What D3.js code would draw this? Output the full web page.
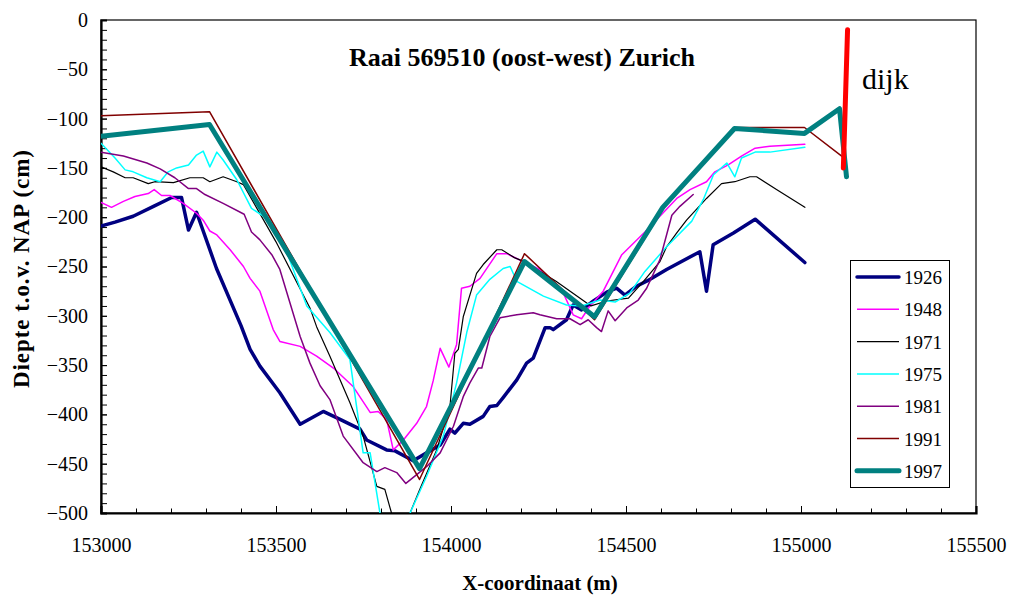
<!DOCTYPE html>
<html>
<head>
<meta charset="utf-8">
<script src="https://cdn.jsdelivr.net/npm/d3@7"></script>
<style>
  html, body { margin: 0; padding: 0; background: #fff; }
  svg { display: block; font-family: "Liberation Serif", "Times New Roman", serif; }
</style>
</head>
<body>
<svg id="chart" width="1012" height="595"></svg>
<script>
// Raai 569510 cross-section profiles: [x-coordinaat (m), diepte (cm)]
const years = ["1926", "1948", "1971", "1975", "1981", "1991", "1997"];

const s1926 = [[153000,-209],[153040,-205],[153092,-199],[153150,-189],[153202,-180],[153230,-180],[153250,-213],
  [153273,-195],[153330,-252],[153400,-310],[153426,-334],[153454,-351],[153511,-378],[153569,-410],[153635,-397],
  [153683,-405],[153740,-415],[153759,-426],[153816,-436],[153840,-437],[153892,-447],[153940,-437],[153969,-431],
  [153997,-415],[154011,-419],[154035,-409],[154054,-410],[154092,-402],[154111,-392],[154131,-391],[154149,-383],
  [154188,-365],[154216,-348],[154235,-343],[154269,-312],[154283,-312],[154292,-314],[154330,-304],[154349,-289],
  [154373,-294],[154407,-285],[154445,-276],[154473,-272],[154497,-279],[154530,-270],[154569,-263],[154616,-253],
  [154711,-235],[154730,-275],[154749,-228],[154807,-216],[154869,-202],[155011,-246]];

const s1948 = [[153000,-185],[153030,-190],[153064,-184],[153097,-179],[153135,-176],[153152,-172],[153173,-178],
  [153197,-178],[153235,-186],[153273,-196],[153292,-203],[153311,-214],[153331,-218],[153369,-233],[153407,-250],
  [153426,-262],[153454,-275],[153492,-314],[153511,-326],[153569,-331],[153616,-341],[153664,-353],[153721,-372],
  [153769,-398],[153792,-397],[153816,-405],[153835,-436],[153864,-426],[153902,-409],[153930,-392],[153949,-366],
  [153969,-333],[153994,-352],[154016,-329],[154030,-272],[154054,-270],[154083,-262],[154131,-237],[154159,-237],
  [154254,-253],[154283,-263],[154321,-277],[154349,-299],[154373,-303],[154397,-290],[154435,-275],[154488,-238],
  [154554,-215],[154645,-181],[154683,-172],[154730,-164],[154754,-154],[154792,-147],[154830,-138],[154869,-130],
  [154911,-128],[155011,-126]];

const s1971 = [[153000,-149],[153035,-154],[153069,-160],[153092,-160],[153135,-166],[153154,-164],[153207,-165],
  [153254,-160],[153292,-160],[153311,-164],[153349,-159],[153388,-164],[153407,-167],[153500,-225],[153597,-292],
  [153616,-311],[153654,-341],[153711,-388],[153749,-422],[153788,-473],[153811,-476],[153830,-500],[153860,-540],
  [153883,-500],[153911,-476],[153959,-436],[153997,-392],[154011,-338],[154021,-334],[154035,-301],[154073,-257],
  [154092,-248],[154131,-233],[154145,-233],[154181,-241],[154209,-245],[154300,-265],[154400,-290],[154445,-285],
  [154507,-282],[154550,-265],[154597,-245],[154616,-230],[154645,-216],[154673,-203],[154730,-181],[154773,-166],
  [154811,-164],[154854,-159],[154873,-159],[154930,-172],[155011,-190]];

const s1975 = [[153000,-125],[153040,-140],[153069,-152],[153092,-154],[153131,-160],[153169,-164],[153192,-154],
  [153216,-150],[153250,-147],[153273,-137],[153292,-133],[153311,-149],[153331,-134],[153349,-142],[153388,-162],
  [153430,-191],[153464,-199],[153492,-209],[153521,-226],[153588,-290],[153654,-317],[153711,-344],[153749,-439],
  [153769,-439],[153797,-500],[153840,-560],[153883,-500],[153930,-463],[153978,-422],[154016,-368],[154045,-317],
  [154073,-279],[154111,-263],[154149,-252],[154169,-250],[154188,-265],[154264,-280],[154330,-289],[154373,-290],
  [154426,-284],[154469,-286],[154511,-277],[154554,-255],[154616,-230],[154688,-204],[154721,-182],[154750,-157],
  [154788,-145],[154811,-159],[154830,-140],[154869,-134],[154911,-134],[155011,-129]];

const s1981 = [[153000,-134],[153064,-138],[153131,-145],[153169,-151],[153211,-160],[153250,-171],[153273,-171],
  [153297,-177],[153349,-186],[153409,-197],[153430,-215],[153454,-223],[153488,-238],[153511,-253],[153569,-321],
  [153597,-348],[153626,-371],[153654,-385],[153692,-422],[153749,-449],[153788,-458],[153811,-454],[153845,-459],
  [153871,-470],[153902,-461],[153930,-453],[153969,-439],[154007,-412],[154035,-382],[154054,-368],[154078,-353],
  [154088,-353],[154111,-321],[154140,-302],[154188,-299],[154235,-297],[154254,-299],[154302,-303],[154340,-303],
  [154369,-309],[154392,-304],[154416,-312],[154430,-316],[154449,-295],[154469,-305],[154502,-292],[154535,-284],
  [154559,-272],[154597,-243],[154631,-198],[154654,-189],[154692,-177]];

const s1991 = [[153000,-97],[153310,-93],[153910,-466],[154210,-237],[154410,-304],[154605,-192],[154815,-109],
  [155010,-109],[155120,-139]];

const s1997 = [[153000,-118],[153310,-106],[153910,-455],[154210,-245],[154410,-301],[154605,-190],[154810,-110],
  [155010,-115],[155110,-90],[155130,-159]];

const dijk = [[155133,-10],[155121,-150]];

const seriesData = [s1926, s1948, s1971, s1975, s1981, s1991, s1997];
const seriesColors = ["#000080", "#ff00ff", "#000000", "#00ffff", "#800080", "#800000", "#008080"];
const seriesWidths = [3.5, 1.5, 1.2, 1.5, 1.5, 1.5, 5];

const xTicks = [153000, 153500, 154000, 154500, 155000, 155500];
const yTicks = [0, -50, -100, -150, -200, -250, -300, -350, -400, -450, -500];

const svg = d3.select("#chart");
const plotL = 101, plotR = 976, plotT = 20, plotB = 513;
const serif = "Liberation Serif";

const x = d3.scaleLinear().domain([153000, 155500]).range([plotL, plotR]);
const y = d3.scaleLinear().domain([-500, 0]).range([plotB, plotT]);

svg.append("defs").append("clipPath").attr("id", "plotClip")
  .append("rect").attr("x", plotL).attr("y", plotT).attr("width", plotR - plotL).attr("height", plotB - plotT);

// frame around the plot area
svg.append("rect").attr("x", plotL).attr("y", plotT).attr("width", plotR - plotL).attr("height", plotB - plotT)
  .attr("fill", "none").attr("stroke", "#000").attr("stroke-width", 1.2);

// minor ticks point inward
const xMinor = d3.range(153000, 155501, 100);
svg.append("g").attr("transform", `translate(0,${plotB})`)
  .call(d3.axisBottom(x).tickValues(xMinor).tickSize(-4.5).tickFormat(""))
  .call(g => g.select(".domain").remove());
svg.append("g").attr("transform", `translate(0,${plotB})`)
  .call(d3.axisBottom(x).tickValues(xTicks).tickSize(-7).tickPadding(25).tickFormat(d3.format("d")))
  .call(g => g.select(".domain").attr("stroke-width", 2.2))
  .call(g => g.selectAll("text").attr("font-size", 20).attr("font-family", serif).attr("fill", "#000"));

const yMinor = d3.range(-500, 1, 10);
svg.append("g").attr("transform", `translate(${plotL},0)`)
  .call(d3.axisLeft(y).tickValues(yMinor).tickSize(-6).tickFormat(""))
  .call(g => g.select(".domain").remove());
svg.append("g").attr("transform", `translate(${plotL},0)`)
  .call(d3.axisLeft(y).tickValues(yTicks).tickSize(-6).tickPadding(13).tickFormat(d3.format("d")))
  .call(g => g.select(".domain").attr("stroke-width", 2.2))
  .call(g => g.selectAll("text").attr("font-size", 20).attr("font-family", serif).attr("fill", "#000"));

svg.selectAll(".tick line").attr("stroke", "#000");

// profile lines
const line = d3.line().x(d => x(d[0])).y(d => y(d[1]));
const plot = svg.append("g").attr("clip-path", "url(#plotClip)");
seriesData.forEach((data, i) => {
  plot.append("path").datum(data)
    .attr("d", line)
    .attr("fill", "none")
    .attr("stroke", seriesColors[i])
    .attr("stroke-width", seriesWidths[i])
    .attr("stroke-linejoin", "round")
    .attr("stroke-linecap", "round");
});

// dike marker
plot.append("path").datum(dijk).attr("d", line)
  .attr("fill", "none").attr("stroke", "#ff0000").attr("stroke-width", 5).attr("stroke-linecap", "round");
svg.append("text").attr("x", 862).attr("y", 89).attr("font-size", 30).attr("font-family", serif)
  .attr("fill", "#000").text("dijk");

// title and axis titles
svg.append("text").attr("x", 522).attr("y", 66).attr("text-anchor", "middle").attr("font-family", serif)
  .attr("font-size", 26).attr("font-weight", "bold").text("Raai 569510 (oost-west) Zurich");
svg.append("text").attr("x", 540).attr("y", 590).attr("text-anchor", "middle").attr("font-family", serif)
  .attr("font-size", 21).attr("font-weight", "bold").text("X-coordinaat (m)");
svg.append("text").attr("transform", "translate(29,269) rotate(-90)").attr("text-anchor", "middle")
  .attr("font-family", serif).attr("font-size", 23).attr("font-weight", "bold")
  .attr("textLength", 238).attr("lengthAdjust", "spacing").text("Diepte t.o.v. NAP (cm)");

// legend
const legend = svg.append("g");
legend.append("rect").attr("x", 850.5).attr("y", 260.5).attr("width", 99).attr("height", 227)
  .attr("fill", "#fff").attr("stroke", "#000").attr("stroke-width", 1);
years.forEach((yr, i) => {
  const ly = 277 + i * 32.3;
  legend.append("line").attr("x1", 857).attr("x2", 899).attr("y1", ly).attr("y2", ly)
    .attr("stroke", seriesColors[i]).attr("stroke-width", seriesWidths[i])
    .attr("stroke-linecap", i === 0 || i === 6 ? "round" : "butt");
  legend.append("text").attr("x", 904).attr("y", ly + 7).attr("font-size", 19).attr("font-family", serif).text(yr);
});
</script>
</body>
</html>
